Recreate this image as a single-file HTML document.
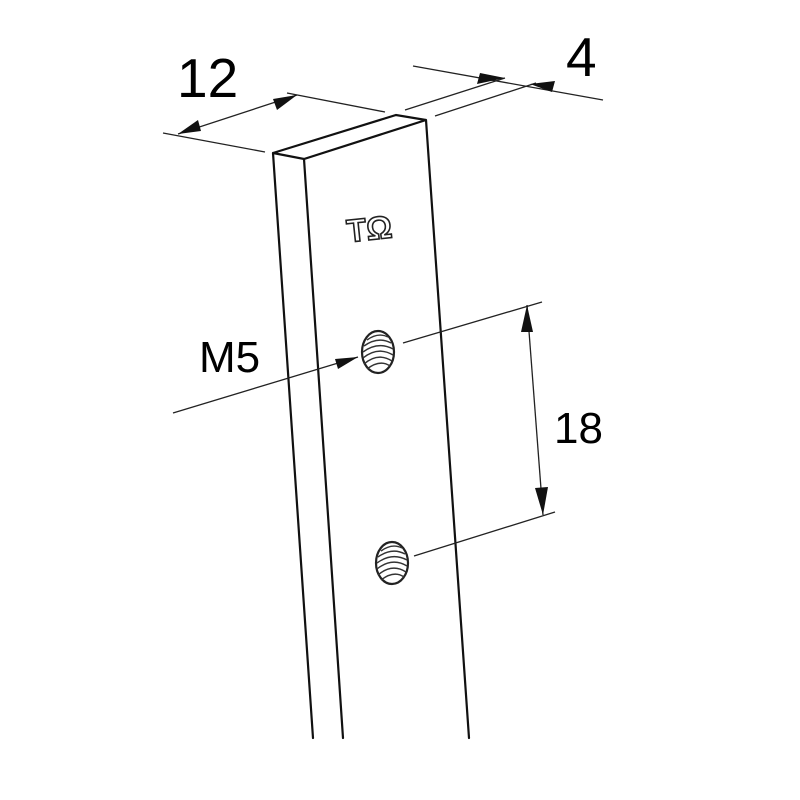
<!DOCTYPE html>
<html><head><meta charset="utf-8"><style>html,body{margin:0;padding:0;background:#fff}svg{display:block}</style></head>
<body>
<svg width="800" height="800" viewBox="0 0 800 800" xmlns="http://www.w3.org/2000/svg">
<rect width="800" height="800" fill="#fff"/>
<g stroke="#111" fill="none" stroke-width="2.2" stroke-linecap="round">
  <polygon points="273,153 304,159 426,120 396,115" />
  <line x1="273" y1="153" x2="313" y2="738"/>
  <line x1="304" y1="159" x2="343" y2="738"/>
  <line x1="426" y1="120" x2="469" y2="738"/>
</g>
<g stroke="#222" fill="none" stroke-width="1.3">
  <line x1="163" y1="133" x2="265" y2="152"/>
  <line x1="287" y1="93" x2="385" y2="112"/>
  <line x1="178" y1="134" x2="297" y2="95"/>
  <line x1="413" y1="66" x2="603" y2="100"/>
  <line x1="405" y1="110" x2="505" y2="78"/>
  <line x1="435" y1="116" x2="536" y2="83"/>
  <line x1="173" y1="413" x2="358" y2="357"/>
  <line x1="403" y1="343" x2="542" y2="302"/>
  <line x1="414" y1="556" x2="555" y2="512"/>
  <line x1="527" y1="305" x2="543" y2="515"/>
</g>
<g fill="#111">
  <polygon points="178,134 198,120 201,131"/>
  <polygon points="297,95 273,99 277,110"/>
  <polygon points="505,78 480,73 477,84"/>
  <polygon points="530,84 555,81 552,92"/>
  <polygon points="358,357 335,359 338,369"/>
  <polygon points="527,305 521,332 533,332"/>
  <polygon points="543,515 535,488 548,487"/>
</g>
<g>
  <ellipse cx="378" cy="352" rx="16" ry="21" fill="#fff" stroke="#222" stroke-width="2.2"/>
  <ellipse cx="392" cy="563" rx="16" ry="21" fill="#fff" stroke="#222" stroke-width="2.2"/>
  <g stroke="#333" fill="none" stroke-width="1.4">
    <path d="M367,340 Q378,332 388,337 M364,346 Q378,336 391,343 M363,352 Q378,341 393,349 M363,358 Q378,346 393,355 M364,364 Q378,352 392,361 M367,369 Q380,359 390,366"/>
    <path d="M381,551 Q392,543 402,548 M378,557 Q392,547 405,554 M377,563 Q392,552 407,560 M377,569 Q392,557 407,566 M378,575 Q392,563 406,572 M381,580 Q394,570 404,577"/>
  </g>
</g>
<text x="346" y="240" font-family="Liberation Sans, sans-serif" font-size="32" font-weight="bold" fill="#fff" stroke="#222" stroke-width="1.6" transform="rotate(-6 368 222)">TΩ</text>
<g font-family="Liberation Sans, sans-serif" fill="#000">
  <text x="177" y="97" font-size="55">12</text>
  <text x="566" y="76" font-size="55">4</text>
  <text x="199" y="372" font-size="44">M5</text>
  <text x="554" y="443" font-size="44">18</text>
</g>
</svg>
</body></html>
